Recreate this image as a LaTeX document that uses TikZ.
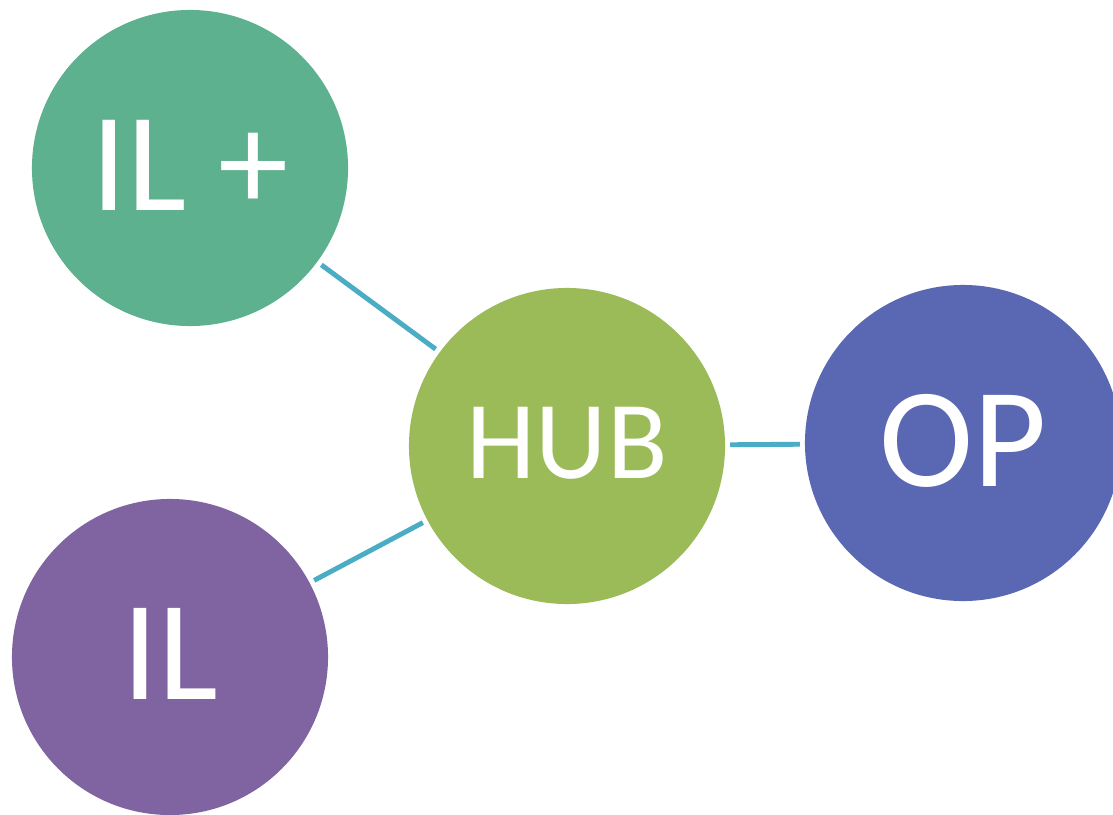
\documentclass[tikz,border=0pt]{standalone}
\usepackage{fontspec}
\setmainfont{Carlito}

\definecolor{ilplusgreen}{HTML}{5EB18F}
\definecolor{hubgreen}{HTML}{9BBB59}
\definecolor{opblue}{HTML}{5A67B3}
\definecolor{ilpurple}{HTML}{8064A2}
\definecolor{linkblue}{HTML}{4BACC6}

\tikzset{%
  bubble/.style={circle, fill=#1, draw=none, inner sep=0pt, outer sep=0pt,
    minimum size=7.9cm, text=white, text depth=0.15cm},
  link/.style={line width=3.5pt, draw=linkblue, shorten <=0.13cm, shorten >=0.13cm}
}

\begin{document}
\begin{tikzpicture}[x=0.025cm, y=-0.025cm]
     \useasboundingbox (0,0) rectangle (1113,815);

     \node[bubble=hubgreen, font=\fontsize{79}{79}\selectfont] (hub) at (567,446) {HUB};
     \node[bubble=ilplusgreen, font=\fontsize{100}{100}\selectfont] (ilplus) at (190,168) {IL +};
     \node[bubble=ilpurple, font=\fontsize{101}{101}\selectfont] (il) at (170,657) {IL};
     \node[bubble=opblue, font=\fontsize{101}{101}\selectfont] (op) at (963,443) {OP};

     \foreach \n in {ilplus, il, op}
       \draw[link] (\n) -- (hub);
\end{tikzpicture}
\end{document}
